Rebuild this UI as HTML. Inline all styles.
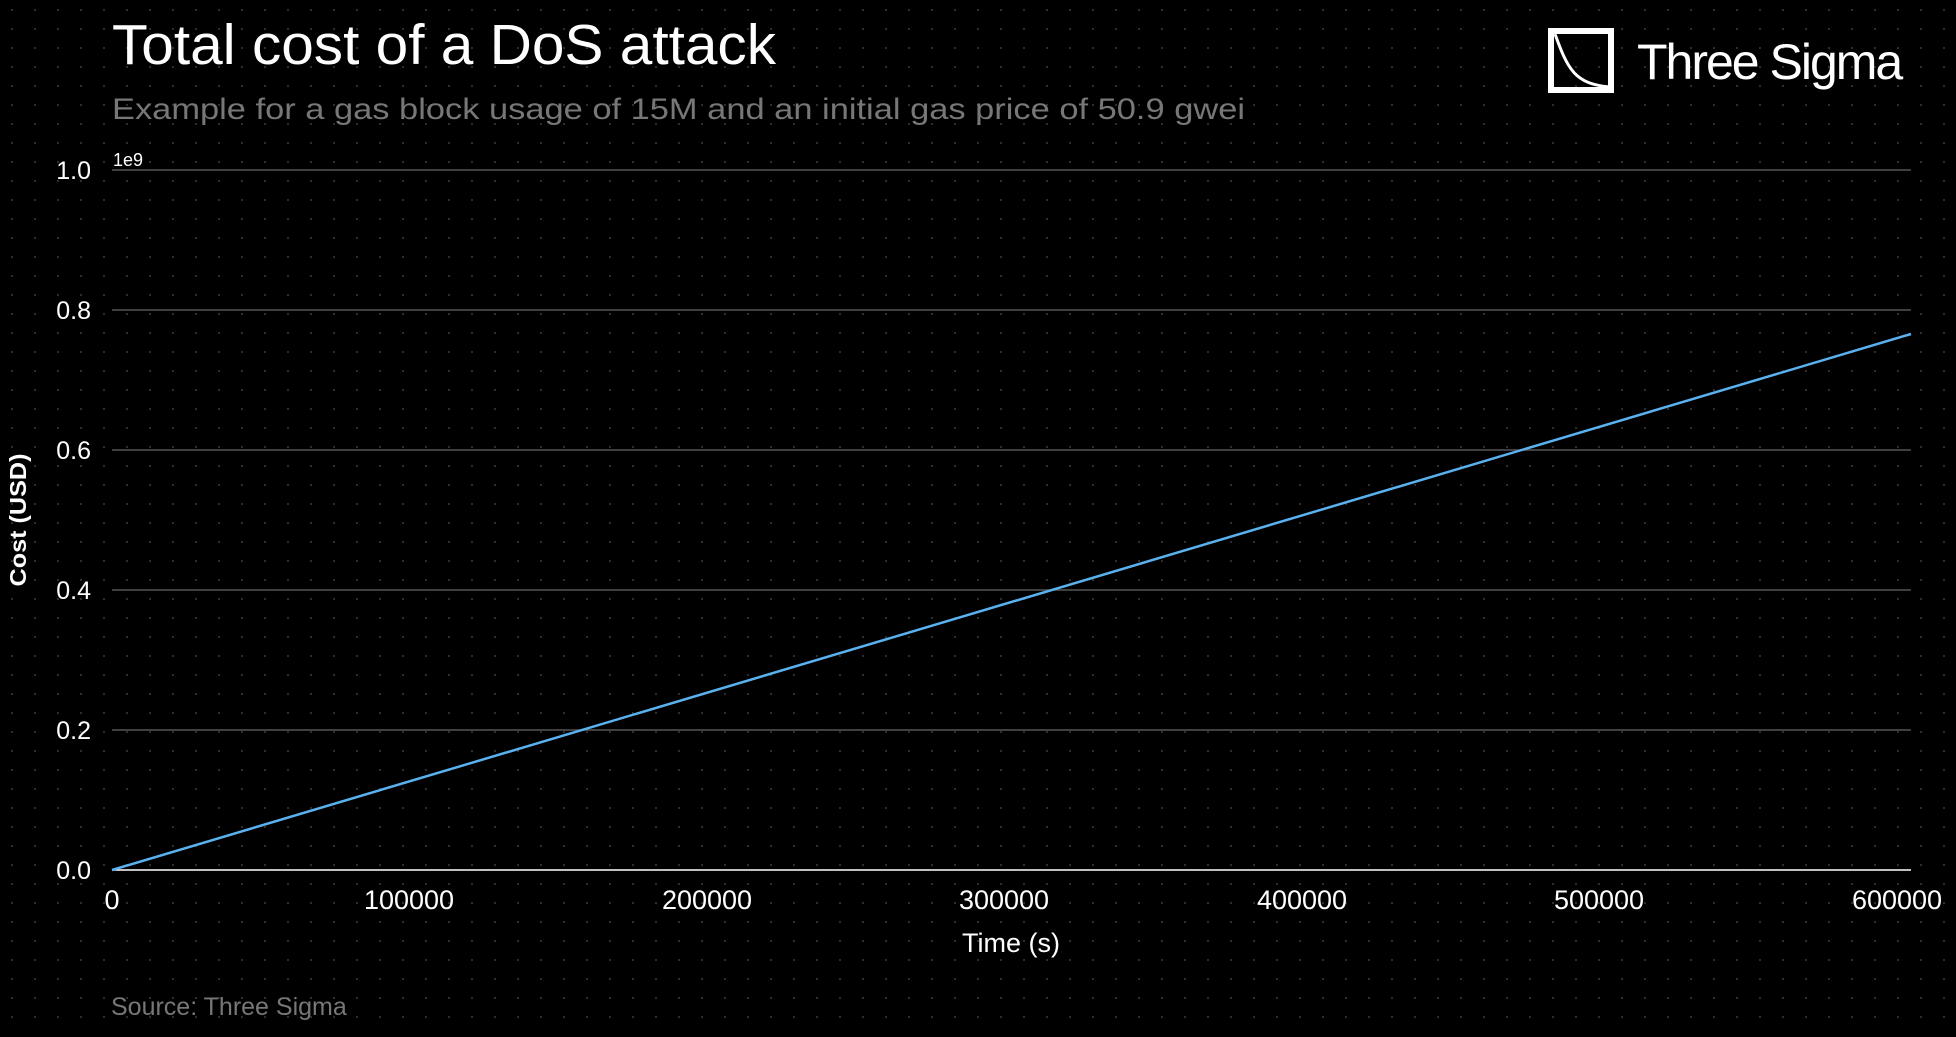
<!DOCTYPE html>
<html><head><meta charset="utf-8"><style>
html,body{margin:0;padding:0;background:#000;}
body{width:1956px;height:1032px;overflow:hidden;}
svg text{font-family:"Liberation Sans",sans-serif;}
</style></head><body>
<svg width="1956" height="1032" viewBox="0 0 1956 1032" xmlns="http://www.w3.org/2000/svg">
<defs>
<pattern id="dots" x="11" y="9" width="23" height="19" patternUnits="userSpaceOnUse">
<rect x="0" y="0" width="2" height="2" fill="#2e2e2e"/>
</pattern>
</defs>
<rect width="1956" height="1032" fill="#000"/>
<rect width="1956" height="1032" fill="url(#dots)"/>
<text x="112" y="64" font-size="57" fill="#fff" textLength="664" lengthAdjust="spacingAndGlyphs">Total cost of a DoS attack</text>
<text x="112" y="119" font-size="30" fill="#777" textLength="1133" lengthAdjust="spacingAndGlyphs">Example for a gas block usage of 15M and an initial gas price of 50.9 gwei</text>
<!-- logo -->
<rect x="1551" y="31" width="60" height="59" fill="none" stroke="#fff" stroke-width="6"/>
<path d="M1555 34 C1568 70 1575 84 1610 87" fill="none" stroke="#fff" stroke-width="3"/>
<text x="1637" y="79" font-size="50" fill="#fff" letter-spacing="-2">Three Sigma</text>
<!-- grid -->
<g stroke="#555" stroke-width="1.5">
<line x1="112" x2="1911" y1="170" y2="170"/>
<line x1="112" x2="1911" y1="310" y2="310"/>
<line x1="112" x2="1911" y1="450" y2="450"/>
<line x1="112" x2="1911" y1="590" y2="590"/>
<line x1="112" x2="1911" y1="730" y2="730"/>
</g>
<line x1="112" x2="1911" y1="870" y2="870" stroke="#fff" stroke-width="1.5"/>
<line x1="112" y1="870" x2="1911" y2="334" stroke="#5ab1ef" stroke-width="2.5"/>
<g font-size="25" fill="#fff" text-anchor="end">
<text x="91" y="179">1.0</text>
<text x="91" y="319">0.8</text>
<text x="91" y="459">0.6</text>
<text x="91" y="599">0.4</text>
<text x="91" y="739">0.2</text>
<text x="91" y="879">0.0</text>
</g>
<text x="113" y="166" font-size="18" fill="#fff">1e9</text>
<g font-size="27" fill="#fff" text-anchor="middle">
<text x="112" y="909">0</text>
<text x="409" y="909">100000</text>
<text x="707" y="909">200000</text>
<text x="1004" y="909">300000</text>
<text x="1302" y="909">400000</text>
<text x="1599" y="909">500000</text>
<text x="1897" y="909">600000</text>
<text x="1011" y="952">Time (s)</text>
</g>
<text transform="translate(26,520) rotate(-90)" font-size="23" font-weight="bold" fill="#fff" text-anchor="middle" textLength="133" lengthAdjust="spacingAndGlyphs">Cost (USD)</text>
<text x="111" y="1015" font-size="25" fill="#777">Source: Three Sigma</text>
</svg>
</body></html>
